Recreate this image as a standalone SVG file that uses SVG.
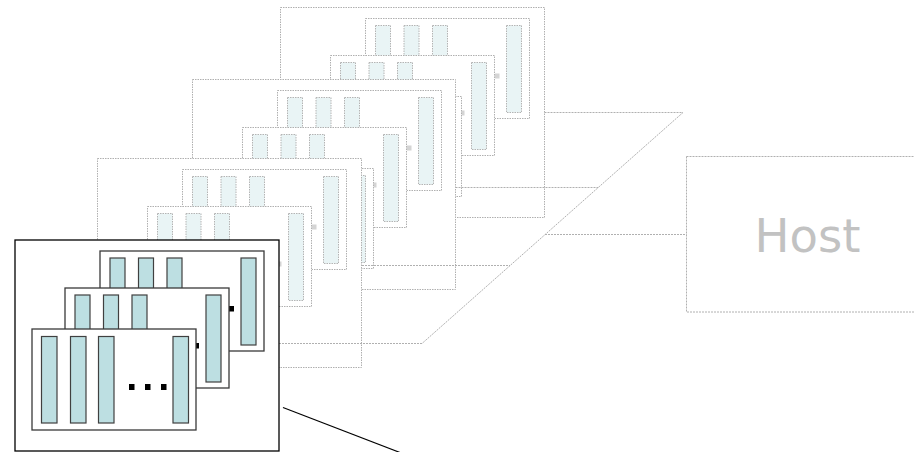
<svg xmlns="http://www.w3.org/2000/svg" width="914" height="452" viewBox="0 0 914 452">
  <defs>
    <style>
      .fbox { fill: #ffffff; stroke: #b0b0b0; stroke-width: 1; stroke-dasharray: 1.5 1; }
      .fcard { fill: #ffffff; stroke: #b0b0b0; stroke-width: 1; stroke-dasharray: 1.5 1; }
      .fbar { fill: #e9f4f5; stroke: #b4b4b4; stroke-width: 1; stroke-dasharray: 1.5 1; }
      .fdot { fill: #d4d4d4; }
      .fline { fill: none; stroke: #b0b0b0; stroke-width: 1; stroke-dasharray: 2 1; }
      .box { fill: #ffffff; stroke: #000000; stroke-width: 1.3; }
      .card { fill: #ffffff; stroke: #3a3a3a; stroke-width: 1.3; }
      .bar { fill: #bddfe2; stroke: #404040; stroke-width: 1.2; }
      .dot { fill: #000000; }
      .host { fill: #ffffff; stroke: #b0b0b0; stroke-width: 1; stroke-dasharray: 2 1; }
      .hosttxt { font-family: "DejaVu Sans", Verdana, sans-serif; font-size: 46.5px; fill: #c2c2c2; }
    </style>
  </defs>

  <!-- back layer C -->
  <g id="layer-c" transform="translate(280.5,7.5)">
    <rect class="fbox" x="0" y="0" width="264" height="210"/>
    <g transform="translate(85,11)">
      <rect class="fcard" x="0" y="0" width="164" height="100"/>
      <rect class="fbar" x="10" y="7" width="15" height="87"/><rect class="fbar" x="38.5" y="7" width="15" height="87"/><rect class="fbar" x="67" y="7" width="15" height="87"/><rect class="fbar" x="141" y="7" width="15" height="87"/>
      <rect class="fdot" x="97" y="55" width="5" height="5"/><rect class="fdot" x="113" y="55" width="5" height="5"/><rect class="fdot" x="129" y="55" width="5" height="5"/>
    </g>
    <g transform="translate(50,48)">
      <rect class="fcard" x="0" y="0" width="164" height="100"/>
      <rect class="fbar" x="10" y="7" width="15" height="87"/><rect class="fbar" x="38.5" y="7" width="15" height="87"/><rect class="fbar" x="67" y="7" width="15" height="87"/><rect class="fbar" x="141" y="7" width="15" height="87"/>
      <rect class="fdot" x="97" y="55" width="5" height="5"/><rect class="fdot" x="113" y="55" width="5" height="5"/><rect class="fdot" x="129" y="55" width="5" height="5"/>
    </g>
    <g transform="translate(17,89)">
      <rect class="fcard" x="0" y="0" width="164" height="100"/>
      <rect class="fbar" x="10" y="7" width="15" height="87"/><rect class="fbar" x="38.5" y="7" width="15" height="87"/><rect class="fbar" x="67" y="7" width="15" height="87"/><rect class="fbar" x="141" y="7" width="15" height="87"/>
      <rect class="fdot" x="97" y="55" width="5" height="5"/><rect class="fdot" x="113" y="55" width="5" height="5"/><rect class="fdot" x="129" y="55" width="5" height="5"/>
    </g>
  </g>

  <!-- layer B -->
  <g id="layer-b" transform="translate(192.5,79.5)">
    <rect class="fbox" x="0" y="0" width="263" height="210"/>
    <g transform="translate(85,11)">
      <rect class="fcard" x="0" y="0" width="164" height="100"/>
      <rect class="fbar" x="10" y="7" width="15" height="87"/><rect class="fbar" x="38.5" y="7" width="15" height="87"/><rect class="fbar" x="67" y="7" width="15" height="87"/><rect class="fbar" x="141" y="7" width="15" height="87"/>
      <rect class="fdot" x="97" y="55" width="5" height="5"/><rect class="fdot" x="113" y="55" width="5" height="5"/><rect class="fdot" x="129" y="55" width="5" height="5"/>
    </g>
    <g transform="translate(50,48)">
      <rect class="fcard" x="0" y="0" width="164" height="100"/>
      <rect class="fbar" x="10" y="7" width="15" height="87"/><rect class="fbar" x="38.5" y="7" width="15" height="87"/><rect class="fbar" x="67" y="7" width="15" height="87"/><rect class="fbar" x="141" y="7" width="15" height="87"/>
      <rect class="fdot" x="97" y="55" width="5" height="5"/><rect class="fdot" x="113" y="55" width="5" height="5"/><rect class="fdot" x="129" y="55" width="5" height="5"/>
    </g>
    <g transform="translate(17,89)">
      <rect class="fcard" x="0" y="0" width="164" height="100"/>
      <rect class="fbar" x="10" y="7" width="15" height="87"/><rect class="fbar" x="38.5" y="7" width="15" height="87"/><rect class="fbar" x="67" y="7" width="15" height="87"/><rect class="fbar" x="141" y="7" width="15" height="87"/>
      <rect class="fdot" x="97" y="55" width="5" height="5"/><rect class="fdot" x="113" y="55" width="5" height="5"/><rect class="fdot" x="129" y="55" width="5" height="5"/>
    </g>
  </g>

  <!-- layer A -->
  <g id="layer-a" transform="translate(97.5,158.5)">
    <rect class="fbox" x="0" y="0" width="264" height="209"/>
    <g transform="translate(85,11)">
      <rect class="fcard" x="0" y="0" width="164" height="100"/>
      <rect class="fbar" x="10" y="7" width="15" height="87"/><rect class="fbar" x="38.5" y="7" width="15" height="87"/><rect class="fbar" x="67" y="7" width="15" height="87"/><rect class="fbar" x="141" y="7" width="15" height="87"/>
      <rect class="fdot" x="97" y="55" width="5" height="5"/><rect class="fdot" x="113" y="55" width="5" height="5"/><rect class="fdot" x="129" y="55" width="5" height="5"/>
    </g>
    <g transform="translate(50,48)">
      <rect class="fcard" x="0" y="0" width="164" height="100"/>
      <rect class="fbar" x="10" y="7" width="15" height="87"/><rect class="fbar" x="38.5" y="7" width="15" height="87"/><rect class="fbar" x="67" y="7" width="15" height="87"/><rect class="fbar" x="141" y="7" width="15" height="87"/>
      <rect class="fdot" x="97" y="55" width="5" height="5"/><rect class="fdot" x="113" y="55" width="5" height="5"/><rect class="fdot" x="129" y="55" width="5" height="5"/>
    </g>
    <g transform="translate(17,89)">
      <rect class="fcard" x="0" y="0" width="164" height="100"/>
      <rect class="fbar" x="10" y="7" width="15" height="87"/><rect class="fbar" x="38.5" y="7" width="15" height="87"/><rect class="fbar" x="67" y="7" width="15" height="87"/><rect class="fbar" x="141" y="7" width="15" height="87"/>
      <rect class="fdot" x="97" y="55" width="5" height="5"/><rect class="fdot" x="113" y="55" width="5" height="5"/><rect class="fdot" x="129" y="55" width="5" height="5"/>
    </g>
  </g>

  <!-- host -->
  <g id="host">
    <rect class="host" x="686.5" y="156.5" width="228" height="155.5"/>
    <text class="hosttxt" x="807.5" y="252" text-anchor="middle">Host</text>
  </g>

  <!-- connectors -->
  <g id="connectors">
    <line class="fline" x1="544.5" y1="112.5" x2="683" y2="112.5"/>
    <line class="fline" x1="455.5" y1="187.5" x2="598" y2="187.5"/>
    <line class="fline" x1="362" y1="265.5" x2="510" y2="265.5"/>
    <line class="fline" x1="279" y1="343.5" x2="422" y2="343.5"/>
    <line class="fline" x1="683" y1="112.5" x2="422" y2="343.5" stroke-dasharray="3 1"/>
    <line class="fline" x1="545" y1="234.5" x2="686.5" y2="234.5"/>
    <line x1="283" y1="407.5" x2="400" y2="452.5" stroke="#000000" stroke-width="1.2"/>
  </g>

  <!-- front board -->
  <g id="board-front" transform="translate(15,240)">
    <rect class="box" x="0" y="0" width="264" height="211"/>
    <g id="card-1" transform="translate(85,11)">
      <rect class="card" x="0" y="0" width="164" height="100"/>
      <rect class="bar" x="10" y="7" width="15" height="87"/><rect class="bar" x="38.5" y="7" width="15" height="87"/><rect class="bar" x="67" y="7" width="15" height="87"/><rect class="bar" x="141" y="7" width="15" height="87"/>
      <rect class="dot" x="97" y="55" width="5" height="5.5"/><rect class="dot" x="113" y="55" width="5" height="5.5"/><rect class="dot" x="129" y="55" width="5" height="5.5"/>
    </g>
    <g id="card-2" transform="translate(50,48)">
      <rect class="card" x="0" y="0" width="164" height="100"/>
      <rect class="bar" x="10" y="7" width="15" height="87"/><rect class="bar" x="38.5" y="7" width="15" height="87"/><rect class="bar" x="67" y="7" width="15" height="87"/><rect class="bar" x="141" y="7" width="15" height="87"/>
      <rect class="dot" x="97" y="55" width="5" height="5.5"/><rect class="dot" x="113" y="55" width="5" height="5.5"/><rect class="dot" x="129" y="55" width="5" height="5.5"/>
    </g>
    <g id="card-3" transform="translate(17,89)">
      <rect class="card" x="0" y="0" width="164" height="101"/>
      <rect class="bar" x="9.5" y="7.5" width="15.5" height="86.5"/><rect class="bar" x="38.5" y="7.5" width="15.5" height="86.5"/><rect class="bar" x="66.5" y="7.5" width="15.5" height="86.5"/><rect class="bar" x="141" y="7.5" width="15.5" height="86.5"/>
      <rect class="dot" x="97" y="55" width="5.5" height="6"/><rect class="dot" x="113" y="55" width="5.5" height="6"/><rect class="dot" x="129" y="55" width="5.5" height="6"/>
    </g>
  </g>
</svg>
